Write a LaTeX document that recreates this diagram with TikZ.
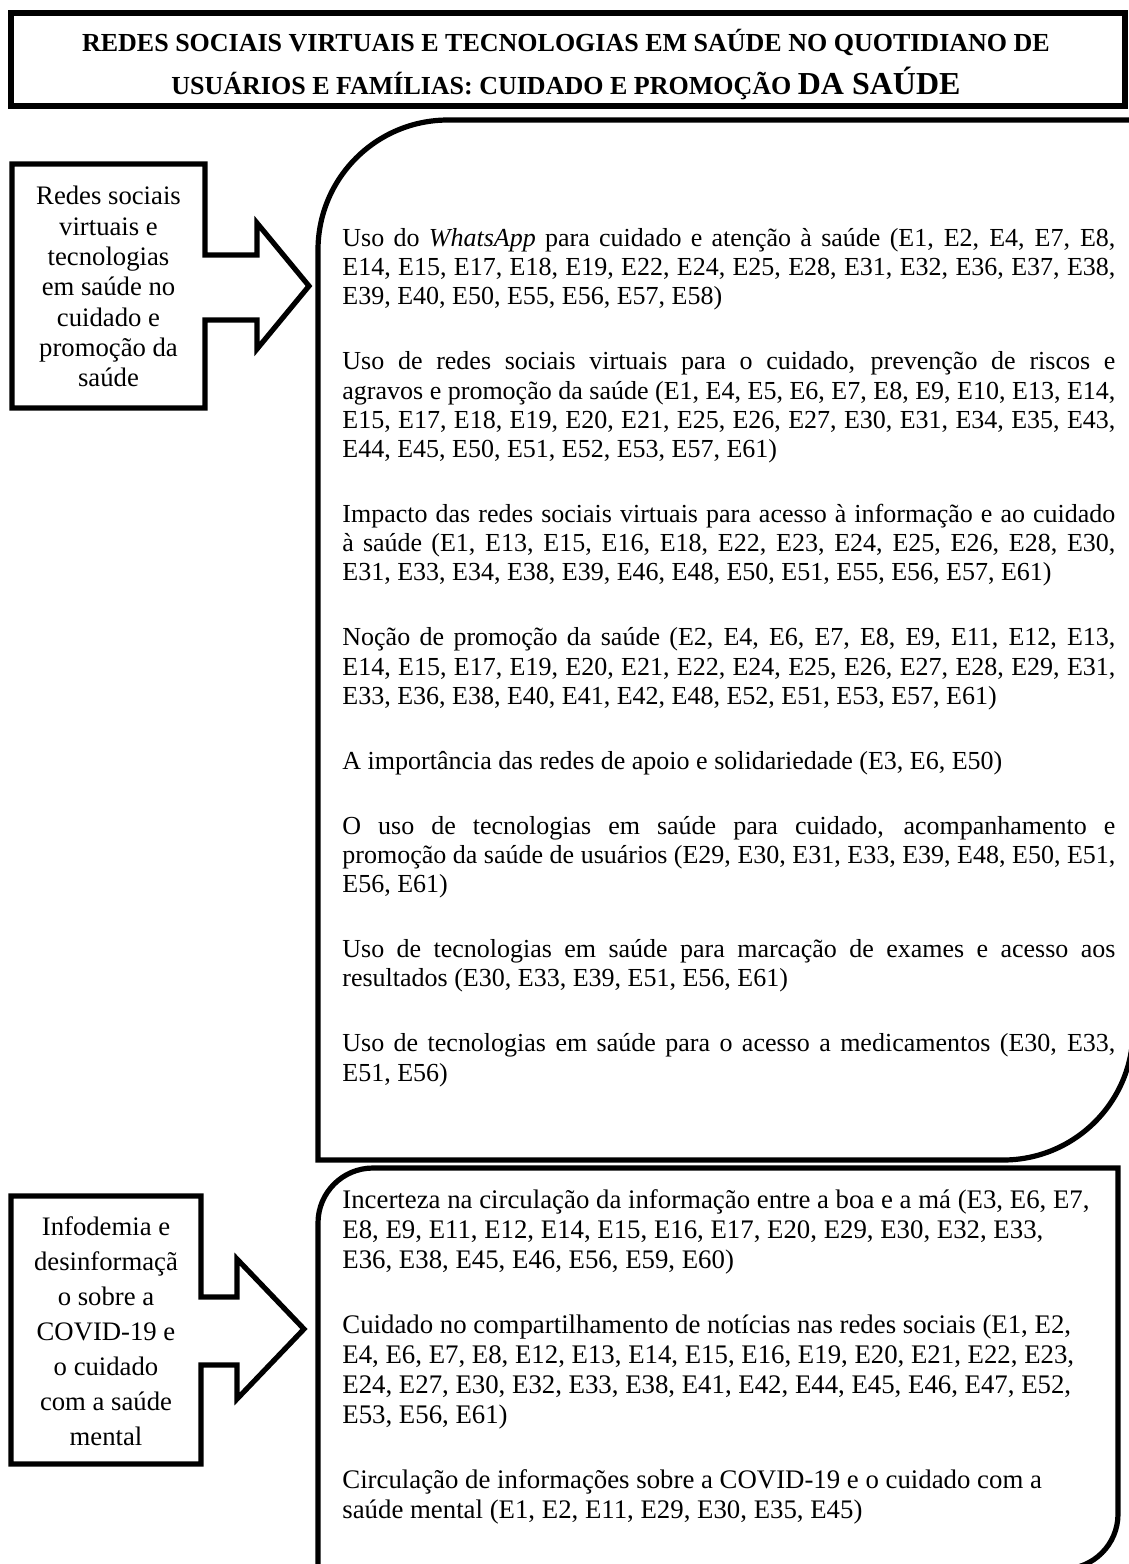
\documentclass[tikz,border=0pt]{standalone}
\usepackage{fontspec}
\setmainfont{Liberation Serif}
% paragraph set-ups for the text blocks
\newcommand\natspaces{\spaceskip=0pt \xspaceskip=0pt }
\newcommand\headingfont{\fontsize{13pt}{21.5pt}\selectfont\bfseries\setlength\lineskiplimit{-50pt}\setlength\parskip{0pt}}
\newcommand\labelfontA{\fontsize{13.35pt}{15.15pt}\selectfont\setlength\lineskiplimit{-50pt}\setlength\parskip{0pt}}
\newcommand\labelfontB{\fontsize{13.35pt}{17.5pt}\selectfont\setlength\lineskiplimit{-50pt}\setlength\parskip{0pt}}
\newcommand\upperfont{\fontsize{13pt}{14.6pt}\selectfont\setlength\parindent{0pt}\setlength\parskip{17.9pt}\setlength\lineskiplimit{-50pt}\tolerance 10000 \hyphenpenalty 10000 \setlength\emergencystretch{30pt}}
\newcommand\lowerfont{\fontsize{13.4pt}{15pt}\selectfont\setlength\parindent{0pt}\setlength\parskip{17.5pt}\setlength\lineskiplimit{-50pt}\hyphenpenalty 10000 }
\begin{document}
\begin{tikzpicture}[x=0.5pt,y=-0.5pt,
  outline/.style={draw=black,line width=2.6pt,line join=miter,miter limit=10},
  titleframe/.style={draw=black,line width=2.8pt},
  sidetext/.style={inner sep=0pt,anchor=north,text width=95pt,align=flush center},
  titletext/.style={inner sep=0pt,anchor=north,text width=555pt,align=flush center,font=\headingfont},
  bigtext/.style={inner sep=0pt,anchor=north west,text width=386.5pt,align=justify,font=\upperfont},
  lowtext/.style={inner sep=0pt,anchor=north west,text width=385pt,align=flush left,font=\lowerfont}
]
\useasboundingbox (0,0) rectangle (1129,1564);

% heading
\draw[titleframe] (11,13) rectangle (1125,106);
\node[titletext] (title) at (566,27)
  {\natspaces\rule{0pt}{12pt}REDES SOCIAIS VIRTUAIS E TECNOLOGIAS EM SAÚDE NO QUOTIDIANO DE\\
   USUÁRIOS E FAMÍLIAS: CUIDADO E PROMOÇÃO {\fontsize{16pt}{21.5pt}\selectfont DA SAÚDE}};

% upper theme: label box joined to its block arrow
\draw[outline] (12,164) -- (205,164) -- (205,255) -- (257,255) -- (257,223)
  -- (309,286) -- (257,349) -- (257,320) -- (205,320) -- (205,408) -- (12,408) -- cycle;
\node[sidetext,font=\labelfontA] (themeA) at (108.5,180.5)
  {\natspaces\rule{0pt}{12pt}Redes sociais\\virtuais e\\tecnologias\\em saúde no\\cuidado e\\promoção da\\saúde};

% upper content panel, rounded at top-left and bottom-right
\draw[outline] (318,1160) -- (318,250) .. controls (318,178.2) and (376.2,120) .. (448,120)
  -- (1133,120) -- (1133,1030) .. controls (1133,1101.8) and (1074.8,1160) .. (1003,1160) -- cycle;
\node[bigtext] (listA) at (342,222)
  {\natspaces\rule{0pt}{12pt}Uso do \textit{WhatsApp} para cuidado e atenção à saúde (E1, E2, E4, E7, E8,\linebreak
  E14, E15, E17, E18, E19, E22, E24, E25, E28, E31, E32, E36, E37, E38,\linebreak
  E39, E40, E50, E55, E56, E57, E58)\par
  Uso de redes sociais virtuais para o cuidado, prevenção de riscos e\linebreak
  agravos e promoção da saúde (E1, E4, E5, E6, E7, E8, E9, E10, E13, E14,\linebreak
  E15, E17, E18, E19, E20, E21, E25, E26, E27, E30, E31, E34, E35, E43,\linebreak
  E44, E45, E50, E51, E52, E53, E57, E61)\par
  Impacto das redes sociais virtuais para acesso à informação e ao cuidado\linebreak
  à saúde (E1, E13, E15, E16, E18, E22, E23, E24, E25, E26, E28, E30,\linebreak
  E31, E33, E34, E38, E39, E46, E48, E50, E51, E55, E56, E57, E61)\par
  Noção de promoção da saúde (E2, E4, E6, E7, E8, E9, E11, E12, E13,\linebreak
  E14, E15, E17, E19, E20, E21, E22, E24, E25, E26, E27, E28, E29, E31,\linebreak
  E33, E36, E38, E40, E41, E42, E48, E52, E51, E53, E57, E61)\par
  A importância das redes de apoio e solidariedade (E3, E6, E50)\par
  O uso de tecnologias em saúde para cuidado, acompanhamento e\linebreak
  promoção da saúde de usuários (E29, E30, E31, E33, E39, E48, E50, E51,\linebreak
  E56, E61)\par
  Uso de tecnologias em saúde para marcação de exames e acesso aos\linebreak
  resultados (E30, E33, E39, E51, E56, E61)\par
  Uso de tecnologias em saúde para o acesso a medicamentos (E30, E33,\linebreak
  E51, E56)};

% lower theme: label box joined to its block arrow
\draw[outline] (11,1196) -- (201,1196) -- (201,1297) -- (237,1297) -- (237,1259)
  -- (304,1329) -- (237,1399) -- (237,1365) -- (201,1365) -- (201,1464) -- (11,1464) -- cycle;
\node[sidetext,font=\labelfontB] (themeB) at (106,1211)
  {\natspaces\rule{0pt}{12pt}Infodemia e\\desinformaçã\\o sobre a\\COVID-19 e\\o cuidado\\com a saúde\\mental};

% lower content panel (its bottom edge runs just below the page)
\draw[outline] (318,1569) -- (318,1223) .. controls (318,1192.6) and (342.6,1168) .. (373,1168)
  -- (1118,1168) -- (1118,1514) .. controls (1118,1544.4) and (1093.4,1569) .. (1063,1569) -- cycle;
\node[lowtext] (listB) at (342,1184)
  {\natspaces\rule{0pt}{12pt}Incerteza na circulação da informação entre a boa e a má (E3, E6, E7,\break
  E8, E9, E11, E12, E14, E15, E16, E17, E20, E29, E30, E32, E33,\break
  E36, E38, E45, E46, E56, E59, E60)\par
  Cuidado no compartilhamento de notícias nas redes sociais (E1, E2,\break
  E4, E6, E7, E8, E12, E13, E14, E15, E16, E19, E20, E21, E22, E23,\break
  E24, E27, E30, E32, E33, E38, E41, E42, E44, E45, E46, E47, E52,\break
  E53, E56, E61)\par
  Circulação de informações sobre a COVID-19 e o cuidado com a\break
  saúde mental (E1, E2, E11, E29, E30, E35, E45)};
\end{tikzpicture}
\end{document}
